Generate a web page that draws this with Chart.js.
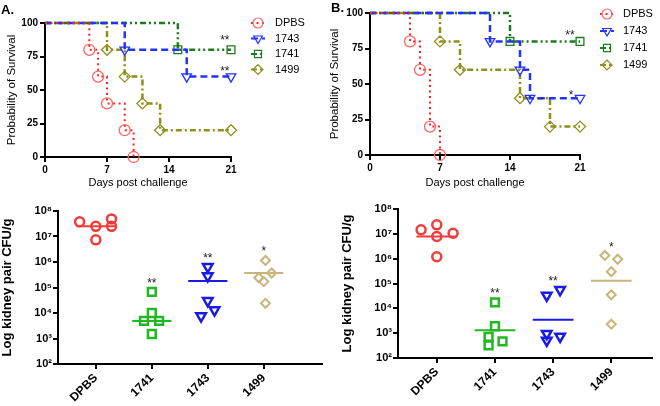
<!DOCTYPE html>
<html>
<head>
<meta charset="utf-8">
<script src="https://cdn.jsdelivr.net/npm/chart.js"></script>
<style>
  body { margin: 0; background: #fff; width: 660px; height: 406px; position: relative; overflow: hidden; font-family: "Liberation Sans", Arial, sans-serif; }
  canvas { position: absolute; }
  .tag { position: absolute; font-weight: bold; font-size: 13px; line-height: 13px; }
</style>
</head>
<body>
<canvas id="kmA" width="330" height="195" style="left:0;top:0"></canvas>
<canvas id="kmB" width="330" height="195" style="left:330px;top:0"></canvas>
<canvas id="cfuA" width="330" height="211" style="left:0;top:195px"></canvas>
<canvas id="cfuB" width="330" height="211" style="left:330px;top:195px"></canvas>
<div class="tag" style="left:1px;top:3px">A.</div>
<div class="tag" style="left:331px;top:1px">B.</div>
<script>
// survival series (legend order)
const kmSeries = ['DPBS', '1743', '1741', '1499'];

const daysA = [
    [0, 5, 6, 7, 9, 10],
    [0, 9, 16, 21],
    [0, 15, 21],
    [0, 7, 9, 11, 13, 21]
];
const survA = [
    [100, 80, 60, 40, 20, 0],
    [100, 80, 60, 60],
    [100, 80, 80],
    [100, 80, 60, 40, 20, 20]
];
const daysB = [
    [0, 4, 5, 6, 7],
    [0, 12, 15, 16, 21],
    [0, 14, 21],
    [0, 7, 9, 15, 18, 21]
];
const survB = [
    [100, 80, 60, 20, 0],
    [100, 80, 60, 40, 40],
    [100, 80, 80],
    [100, 80, 60, 40, 20, 20]
];
const starsA = [['**', 20.3, 87], ['**', 20.3, 64]];
const starsB = [['**', 20, 84], ['*', 20.1, 42]];

// kidney burden (category order)
const groups = ['DPBS', '1741', '1743', '1499'];

const cfuA = [
    [3.8e7, 2.5e7, 7.4e6, 4.9e7, 2.5e7],
    [6.8e4, 1.0e4, 4.9e3, 4.9e3, 1.5e3],
    [6.5e5, 2.8e5, 3.0e4, 7.6e3, 1.3e4],
    [1.15e6, 2.4e5, 3.7e5, 1.7e5, 2.4e4]
];
const jitterA = [
    [-0.29, 0, 0, 0.28, 0.28],
    [0, 0, -0.14, 0.13, 0],
    [0, 0, 0, -0.12, 0.12],
    [0.03, -0.09, 0.14, 0, 0.03]
];
const centerA = [2.5e7, 4.9e3, 1.8e5, 3.7e5];
const sigA = ['', '**', '**', '*'];

const cfuB = [
    [1.45e7, 2.3e7, 7.8e6, 1.05e7, 1.2e6],
    [1.75e4, 1.9e3, 7.1e2, 4.7e2, 3.2e2],
    [3.3e4, 5.6e4, 9.5e2, 5.1e2, 7.4e2],
    [1.35e6, 9.5e5, 3.0e5, 3.5e4, 2.3e3]
];
const jitterB = [
    [-0.27, 0, 0, 0.28, 0],
    [0, 0, -0.11, 0.13, -0.11],
    [-0.11, 0.12, -0.11, -0.11, 0.12],
    [-0.11, 0.11, 0, 0, 0]
];
const centerB = [7.8e6, 1.3e3, 3.5e3, 1.3e5];
const sigB = ['', '**', '**', '*'];

Chart.defaults.font.family = '"Liberation Sans", Arial, sans-serif';
Chart.defaults.color = '#000';

const kmStyle = [
    { line: '#ff2020', mark: '#ff6666', dash: [2, 3.5], width: 2, shape: 'circle', rot: 0 },
    { line: '#2233ff', mark: '#2233ff', dash: [7, 4], width: 2.5, shape: 'triangle', rot: 180 },
    { line: '#1d7a1d', mark: '#1d7a1d', dash: [6, 3, 2, 3, 2, 3], width: 2.5, shape: 'rect', rot: 0 },
    { line: '#8f8f1a', mark: '#8f8f1a', dash: [6, 3, 2, 3], width: 2.5, shape: 'rectRot', rot: 0 }
];
const dotStyle = [
    { color: '#f03c3c', shape: 'circle', rot: 0, r: 4.5, w: 2.5 },
    { color: '#22b822', shape: 'rect', rot: 0, r: 5.5, w: 2.5 },
    { color: '#1a1ae6', shape: 'triangle', rot: 180, r: 5.5, w: 2.5 },
    { color: '#c9b47a', shape: 'rectRot', rot: 0, r: 4.5, w: 2 }
];
const sup = { 2: '\u00b2', 3: '\u00b3', 4: '\u2074', 5: '\u2075', 6: '\u2076', 7: '\u2077', 8: '\u2078' };

// legend with line segment + open marker
const kmLegend = {
    id: 'kmLegend',
    afterDraw(chart, args, opts) {
        const ctx = chart.ctx;
        chart.data.datasets.forEach((ds, i) => {
            const y = opts.y + i * opts.gap;
            ctx.save();
            ctx.strokeStyle = ds.borderColor;
            ctx.lineWidth = 2;
            ctx.setLineDash(ds.borderDash);
            ctx.beginPath();
            ctx.moveTo(opts.x - 7, y);
            ctx.lineTo(opts.x + 7, y);
            ctx.stroke();
            ctx.setLineDash([]);
            ctx.strokeStyle = ds.pointBorderColor;
            ctx.fillStyle = 'rgba(255,255,255,0)';
            ctx.lineWidth = 1.2;
            Chart.helpers.drawPoint(ctx, { pointStyle: ds.pointStyle, rotation: ds.pointRotation, radius: 5, borderWidth: 1.2 }, opts.x, y);
            ctx.fillStyle = '#000';
            ctx.font = '11px "Liberation Sans", Arial, sans-serif';
            ctx.textBaseline = 'middle';
            ctx.fillText(ds.label, opts.textX, y);
            ctx.restore();
        });
    }
};

// significance marks placed in data units
const starText = {
    id: 'starText',
    afterDraw(chart, args, opts) {
        const ctx = chart.ctx;
        ctx.save();
        ctx.fillStyle = '#222';
        ctx.font = '12px "Liberation Sans", Arial, sans-serif';
        ctx.textAlign = 'center';
        ctx.textBaseline = 'middle';
        opts.items.forEach(([t, x, y]) => {
            ctx.fillText(t, chart.scales.x.getPixelForValue(x), chart.scales.y.getPixelForValue(y));
        });
        ctx.restore();
    }
};

function axisBase() {
    return {
        grid: { drawOnChartArea: false, color: '#000', lineWidth: 2, tickLength: 5 },
        border: { color: '#000', width: 2 }
    };
}

function kmChart(id, days, surv, stars, geo) {
    const datasets = kmSeries.map((name, i) => ({
        label: name,
        data: days[i].map((d, j) => ({ x: d, y: surv[i][j] })),
        stepped: true,
        showLine: true,
        clip: false,
        borderColor: kmStyle[i].line,
        borderWidth: kmStyle[i].width,
        borderDash: kmStyle[i].dash,
        pointStyle: kmStyle[i].shape,
        pointRotation: kmStyle[i].rot,
        pointRadius: days[i].map((d, j) => j === 0 ? 0 : 5.5),
        pointBorderColor: kmStyle[i].mark,
        pointBackgroundColor: 'rgba(0,0,0,0)',
        pointBorderWidth: 1.3
    }));

    new Chart(document.getElementById(id), {
        type: 'scatter',
        data: { datasets: datasets },
        options: {
            responsive: false,
            animation: false,
            layout: { padding: { left: 0, right: geo.right, top: geo.top, bottom: 0 } },
            plugins: {
                legend: { display: false },
                tooltip: { enabled: false },
                kmLegend: geo.legend,
                starText: { items: stars }
            },
            scales: {
                x: Object.assign(axisBase(), {
                    type: 'linear', min: 0, max: 21,
                    ticks: { stepSize: 7, font: { size: 10, weight: 'bold' }, padding: 2 },
                    title: { display: true, text: 'Days post challenge', font: { size: 11 }, padding: { top: 0, bottom: 5 } },
                    afterFit(s) { s.height = geo.xh; }
                }),
                y: Object.assign(axisBase(), {
                    min: 0, max: 100,
                    ticks: { stepSize: 25, font: { size: 10, weight: 'bold' }, padding: 2 },
                    title: { display: true, text: 'Probability of Survival', font: { size: 11.5 }, padding: { top: geo.ytitle, bottom: 0 } },
                    afterFit(s) { s.width = geo.yw; }
                })
            }
        },
        plugins: [kmLegend, starText]
    });
}

function cfuChart(id, values, jitter, centers, sig, geo) {
    const datasets = [];
    groups.forEach((g, i) => {
        datasets.push({
            label: g,
            data: values[i].map((v, j) => ({ x: i + jitter[i][j], y: v })),
            clip: false,
            pointStyle: dotStyle[i].shape,
            pointRotation: dotStyle[i].rot,
            pointRadius: dotStyle[i].r,
            pointBorderColor: dotStyle[i].color,
            pointBackgroundColor: 'rgba(255,255,255,0)',
            pointBorderWidth: dotStyle[i].w
        });
        datasets.push({
            label: g + ' center',
            data: [{ x: i - 0.35, y: centers[i] }, { x: i + 0.35, y: centers[i] }],
            showLine: true,
            pointRadius: 0,
            borderColor: dotStyle[i].color,
            borderWidth: 2
        });
    });
    const stars = groups.map((g, i) => [sig[i], i, Math.max(...values[i]) * Math.pow(10, 0.33)]).filter(s => s[0]);

    new Chart(document.getElementById(id), {
        type: 'scatter',
        data: { datasets: datasets },
        options: {
            responsive: false,
            animation: false,
            layout: { padding: { left: 0, right: 0, top: geo.top, bottom: 0 } },
            plugins: {
                legend: { display: false },
                tooltip: { enabled: false },
                starText: { items: stars }
            },
            scales: {
                x: Object.assign(axisBase(), {
                    type: 'linear', min: geo.xmin, max: geo.xmax,
                    afterBuildTicks(s) { s.ticks = groups.map((g, i) => ({ value: i })); },
                    ticks: {
                        callback: v => groups[v],
                        minRotation: 45, maxRotation: 45,
                        font: { size: 12, weight: 'bold' }, padding: 2
                    },
                    afterFit(s) { s.height = geo.xh; }
                }),
                y: Object.assign(axisBase(), {
                    type: 'logarithmic', min: 1e2, max: 1e8,
                    afterBuildTicks(s) { s.ticks = [2, 3, 4, 5, 6, 7, 8].map(e => ({ value: Math.pow(10, e) })); },
                    ticks: {
                        callback: v => '10' + sup[Math.round(Math.log10(v))],
                        font: { size: 11, weight: 'bold' }, padding: 1
                    },
                    title: { display: true, text: 'Log kidney pair CFU/g', font: { size: 13, weight: 'bold' }, padding: { top: geo.ytitle, bottom: 0 } },
                    afterFit(s) { s.width = geo.yw; }
                })
            }
        },
        plugins: [starText]
    });
}

kmChart('kmA', daysA, survA, starsA, {
    right: 99, top: 23, xh: 38, yw: 45, ytitle: 5,
    legend: { x: 258, textX: 275, y: 23, gap: 15.5 }
});
kmChart('kmB', daysB, survB, starsB, {
    right: 80, top: 13, xh: 40, yw: 40, ytitle: -2,
    legend: { x: 277, textX: 293, y: 14, gap: 17 }
});
cfuChart('cfuA', cfuA, jitterA, centerA, sigA, {
    top: 16, xh: 42, yw: 58, ytitle: 0, xmin: -0.676, xmax: 4.04
});
cfuChart('cfuB', cfuB, jitterB, centerB, sigB, {
    top: 14, xh: 48, yw: 68, ytitle: 10, xmin: -0.667, xmax: 3.7
});
</script>
</body>
</html>
